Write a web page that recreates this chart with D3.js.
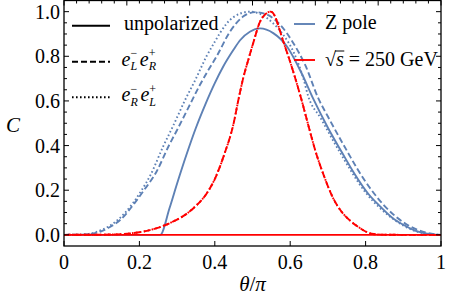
<!DOCTYPE html>
<html><head><meta charset="utf-8">
<script src="https://cdn.jsdelivr.net/npm/d3@7"></script>
<style>body{margin:0;background:#fff;}</style></head>
<body><svg id="c" width="449" height="308"></svg>
<script>
// ---- data (theta/pi, C) ----
const zSolidX = [0,0.1,0.2,0.255,0.28,0.30,0.325,0.35,0.375,0.40,0.421,0.45,0.467,0.493,0.52,0.555,0.591,0.63,0.661,0.70,0.737,0.77,0.807,0.84,0.869,0.90,0.931,0.96,0.985,1.0];
const zSolidY = [0,0,0,0,0.12,0.23,0.36,0.48,0.585,0.68,0.75,0.83,0.872,0.91,0.925,0.904,0.845,0.725,0.61,0.48,0.37,0.275,0.184,0.125,0.079,0.045,0.019,0.006,0.001,0];

const zDashX = [0,0.04,0.07,0.1,0.122,0.15,0.184,0.21,0.246,0.277,0.30,0.33,0.36,0.38,0.405,0.44,0.476,0.507,0.538,0.573,0.608,0.64,0.675,0.70,0.754,0.78,0.816,0.85,0.88,0.92,0.96,0.99,1.0];
const zDashY = [0,0.0005,0.004,0.017,0.035,0.068,0.135,0.195,0.285,0.396,0.47,0.57,0.67,0.73,0.80,0.91,0.979,0.998,0.987,0.942,0.86,0.76,0.61,0.53,0.366,0.29,0.20,0.13,0.082,0.036,0.01,0.001,0];

const zDotX = [0,0.04,0.07,0.1,0.13,0.16,0.184,0.206,0.23,0.263,0.29,0.32,0.35,0.378,0.40,0.414,0.449,0.493,0.52,0.55,0.58,0.61,0.635,0.648,0.68,0.73,0.80,0.87,0.93,0.98,1.0];
const zDotY = [0,0.001,0.006,0.022,0.05,0.095,0.145,0.2,0.27,0.396,0.49,0.6,0.7,0.80,0.865,0.905,0.975,1.0,0.99,0.955,0.9,0.815,0.70,0.62,0.525,0.375,0.19,0.075,0.018,0.001,0];

const hDashX = [0,0.1,0.15,0.184,0.22,0.255,0.29,0.325,0.35,0.378,0.40,0.425,0.45,0.462,0.475,0.489,0.502,0.52,0.535,0.548,0.56,0.568,0.58,0.597,0.63,0.645,0.668,0.69,0.714,0.737,0.76,0.781,0.80,0.816,0.84,0.9,1.0];
const hDashY = [0,0.001,0.003,0.008,0.018,0.035,0.06,0.094,0.13,0.184,0.25,0.36,0.50,0.60,0.70,0.785,0.86,0.955,0.99,1.0,0.978,0.94,0.875,0.79,0.605,0.51,0.37,0.262,0.164,0.102,0.062,0.035,0.015,0.005,0.001,0,0];
const hDotX = hDashX;
const hDotY = hDashY;
const hSolidX = [0,1];
const hSolidY = [0,0];

const xTicks = [0,0.2,0.4,0.6,0.8,1];
const xTickLabels = ["0","0.2","0.4","0.6","0.8","1"];
const yTicks = [0,0.2,0.4,0.6,0.8,1.0];
const yTickLabels = ["0.0","0.2","0.4","0.6","0.8","1.0"];

// ---- drawing ----
const FONT = '"Liberation Serif"';
const svg = d3.select("#c");
const L=64,R=441,T=0.5,B=246;
const x = d3.scaleLinear().domain([0,1]).range([L,R]);
const y = d3.scaleLinear().domain([-0.05,1.05]).range([B,T]);
const blue="#5e81b5", red="#ff0000";

svg.append("defs").append("clipPath").attr("id","clip")
  .append("rect").attr("x",L).attr("y",0).attr("width",R-L).attr("height",B);

const line = d3.line().x(d=>x(d[0])).y(d=>y(d[1])).curve(d3.curveMonotoneX);
const zip=(a,b)=>a.map((v,i)=>[v,b[i]]);
const g = svg.append("g").attr("clip-path","url(#clip)");
function curve(xs,ys,color,dash){
  g.append("path").attr("d",line(zip(xs,ys))).attr("fill","none")
   .attr("stroke",color).attr("stroke-width",1.9)
   .attr("stroke-dasharray",dash||null);
}
curve(zSolidX,zSolidY,blue);
curve(zDashX,zDashY,blue,"6,3");
curve(zDotX,zDotY,blue,"1.6,2.4");
curve(hSolidX,hSolidY,red);
curve(hDashX,hDashY,red,"7,3");
curve(hDotX,hDotY,red,"1.6,2.4");

// frame
svg.append("rect").attr("x",L).attr("y",T).attr("width",R-L).attr("height",B-T)
  .attr("fill","none").attr("stroke","#000").attr("stroke-width",1.3);

// ticks
const tk = svg.append("g").attr("stroke","#000").attr("stroke-width",1);
xTicks.forEach(v=>{ tk.append("line").attr("x1",x(v)).attr("x2",x(v)).attr("y1",B).attr("y2",B-5); });
d3.range(0,31).forEach(i=>{ const v=i/30, len=(i%5===0)?5:3;
  tk.append("line").attr("x1",x(v)).attr("x2",x(v)).attr("y1",T).attr("y2",T+len); });
d3.range(0,22).forEach(i=>{ const v=i*0.05, len=(i%4===0)?5:3;
  tk.append("line").attr("x1",L).attr("x2",L+len).attr("y1",y(v)).attr("y2",y(v));
  tk.append("line").attr("x1",R).attr("x2",R-len).attr("y1",y(v)).attr("y2",y(v)); });

function txt(sel,xx,yy,size){
  return sel.append("text").attr("x",xx).attr("y",yy).style("font-family",FONT).style("font-size",size+"px").attr("fill","#000");
}

// tick labels
xTicks.forEach((v,i)=>txt(svg,x(v),269,20).attr("text-anchor","middle").text(xTickLabels[i]));
yTicks.forEach((v,i)=>txt(svg,60,y(v)+7,20).attr("text-anchor","end").text(yTickLabels[i]));

// axis labels
txt(svg,13,132,21).attr("text-anchor","middle").style("font-style","italic").text("C");
const xl = txt(svg,252.5,291,21).attr("text-anchor","middle");
xl.append("tspan").style("font-style","italic").text("θ");
xl.append("tspan").text("/");
xl.append("tspan").style("font-style","italic").text("π");

// legends
const lg = svg.append("g");
function sample(yy,dash,color,x1,x2){
  lg.append("line").attr("x1",x1).attr("x2",x2).attr("y1",yy).attr("y2",yy)
    .attr("stroke",color).attr("stroke-width",1.9).attr("stroke-dasharray",dash||null);
}
sample(25.7,null,"#000",72,110);
sample(61.7,"6,3","#000",72,110);
sample(97.3,"1.6,2.4","#000",72,110);
txt(lg,124,30,20).text("unpolarized");

// e^-_X e^+_Y in one text element, sub and sup stacked via dx/dy
function ee(x0,base,sub1,sup1,sub2,sup2){
  const t = txt(lg,x0,base,20);
  [[sub1,sup1],[sub2,sup2]].forEach(([sb,sp])=>{
    t.append("tspan").style("font-style","italic").text("e");
    const a=t.append("tspan").style("font-size","12px").attr("dy",-8.5).text(sp);
    const wa=a.node().getComputedTextLength();
    const b=t.append("tspan").style("font-size","12px").style("font-style","italic").attr("dx",-wa).attr("dy",13).text(sb);
    const wb=b.node().getComputedTextLength();
    const extra = Math.max(wa-wb,0)+1;
    t.append("tspan").attr("dx",extra).attr("dy",-4.5).text("\u200A");
  });
}
ee(121.5,65.5,"L","−","R","+");
ee(121.5,101,"R","−","L","+");

// right legend
sample(24,null,blue,294,315);
sample(60,null,red,294,315);
txt(lg,325,29,20).text("Z pole");
const t2 = txt(lg,325,66,20);
const rad = t2.append("tspan").text("√");
const sT = t2.append("tspan").style("font-style","italic").text("s");
t2.append("tspan").text(" = 250 GeV");
const radW = rad.node().getComputedTextLength();
const sW = sT.node().getComputedTextLength();
lg.append("line").attr("x1",325+radW-1).attr("x2",325+radW+sW+0.5).attr("y1",51).attr("y2",51)
  .attr("stroke","#000").attr("stroke-width",1);
</script></body></html>
